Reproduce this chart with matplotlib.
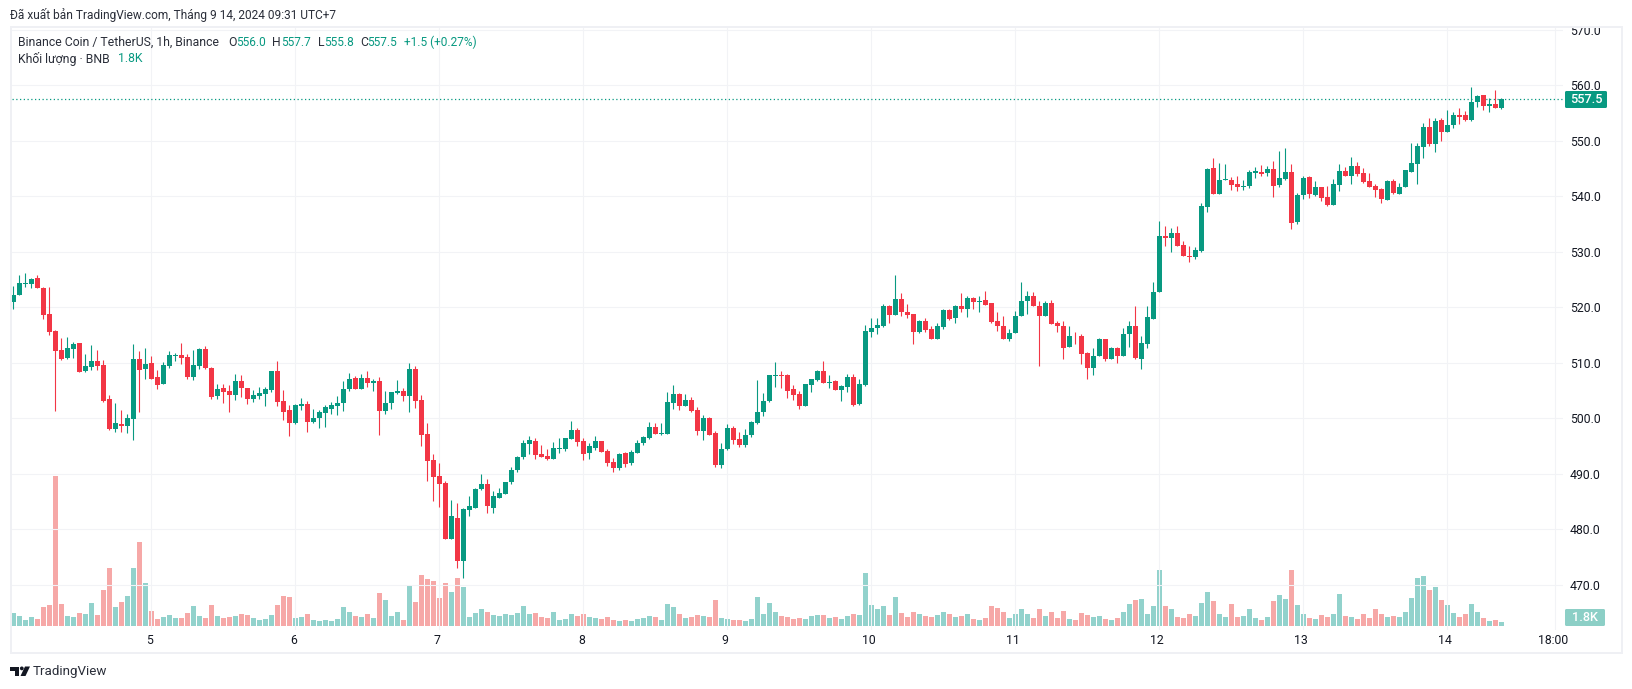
# -*- coding: utf-8 -*-
import matplotlib as mpl
mpl.use('Agg')
import matplotlib.pyplot as plt
from matplotlib.patches import Rectangle, Circle, Polygon, FancyBboxPatch
from matplotlib.transforms import ScaledTranslation

plt.rcParams['font.family'] = ['Roboto', 'DejaVu Sans']

# hourly candles, first one is Sep 4 01:00
opens = [520.9,522.2,524.2,524.2,525.3,523.5,518.8,515.7,512.3,510.9,
         512.5,513.6,508.5,509.2,510.3,509.6,503.5,498.1,499.0,498.6,
         499.9,510.7,508.9,510.0,507.4,506.2,509.4,511.2,511.4,511.0,
         507.4,509.4,512.5,509.1,504.0,505.5,504.9,504.2,506.7,505.4,
         503.5,504.0,504.4,505.1,508.5,503.1,501.5,499.1,502.2,502.6,
         499.3,500.0,500.9,501.7,502.2,502.7,505.3,507.2,505.3,507.2,
         506.3,506.7,501.3,502.7,504.5,504.9,504.0,508.9,503.3,497.2,
         492.5,489.6,488.3,478.3,482.1,474.2,483.4,483.9,487.2,488.1,
         483.9,485.7,486.3,488.5,490.7,493.0,495.4,495.9,493.6,493.2,
         492.7,494.4,494.5,496.3,497.9,495.9,493.7,494.6,495.9,494.1,
         492.2,491.0,493.7,491.9,493.7,495.5,496.4,498.4,497.2,497.2,
         502.7,504.4,502.2,503.3,501.5,497.7,500.0,497.3,491.6,494.5,
         498.3,496.2,495.2,497.0,499.2,501.1,503.1,507.6,507.8,507.8,
         505.3,504.4,502.2,506.0,506.9,508.5,506.4,506.7,505.1,505.6,
         507.4,502.6,506.0,515.5,516.3,516.6,520.2,518.6,521.5,519.1,
         518.8,515.5,517.5,516.1,514.3,516.4,519.5,518.0,520.3,519.6,
         521.6,520.9,521.4,520.7,517.6,516.6,514.2,515.3,518.5,521.1,
         522.0,520.3,518.5,520.7,517.1,516.7,512.8,514.9,514.9,511.7,
         509.0,511.3,514.2,510.6,512.6,511.2,515.1,516.6,510.6,513.3,
         517.8,522.7,532.9,532.4,533.3,531.3,529.3,529.1,530.2,538.0,
         545.1,540.4,542.9,542.9,542.2,541.6,541.8,544.2,544.3,544.2,
         544.9,542.0,543.1,544.3,535.3,540.2,543.4,540.2,541.6,539.8,
         538.4,542.0,544.5,543.6,545.4,544.2,542.7,541.8,541.3,539.3,
         542.7,540.4,541.6,544.3,545.8,548.8,552.4,549.4,553.7,551.5,
         552.8,554.7,554.7,553.8,557.0,558.3,556.3,556.6,556.0]
highs = [523.8,525.8,526.2,525.3,525.8,523.6,523.6,515.9,514.5,514.6,
         513.7,513.6,511.6,513.2,512.3,510.5,504.2,502.8,501.5,500.8,
         513.4,512.1,512.7,511.2,508.7,510.1,512.1,511.8,513.6,511.6,
         512.3,512.7,513.0,509.2,506.2,506.2,506.0,508.0,507.8,505.5,
         505.1,505.6,505.6,508.5,510.3,505.1,502.4,502.6,503.6,503.1,
         501.7,501.5,502.4,502.9,504.0,506.7,508.1,507.6,508.0,508.5,
         507.1,507.4,504.9,504.7,506.9,505.4,510.0,509.4,504.2,499.1,
         493.6,492.0,488.7,485.3,484.7,483.8,485.9,487.5,489.9,489.0,
         486.8,487.5,488.6,491.2,493.2,496.1,496.8,496.4,495.2,494.5,
         495.7,496.4,496.4,499.5,498.2,496.4,495.5,496.8,495.9,494.5,
         492.8,493.7,493.9,494.3,496.1,496.8,499.3,499.1,499.1,504.7,
         506.0,504.5,504.4,503.8,502.0,500.6,500.2,497.7,495.6,499.0,
         498.6,497.6,498.0,499.5,506.9,504.6,507.8,510.1,508.5,508.0,
         506.0,504.9,506.2,507.1,508.7,510.3,507.8,506.9,506.0,508.0,
         508.0,507.1,516.8,518.1,518.1,520.6,520.4,525.8,522.6,520.6,
         518.8,517.7,518.1,516.6,517.2,519.7,519.7,520.5,522.5,522.0,
         521.8,522.1,522.9,520.7,519.1,518.5,516.0,519.4,524.5,522.9,
         522.7,521.2,521.2,521.4,517.5,517.5,516.7,515.5,515.1,511.9,
         512.6,514.4,514.2,512.8,512.8,516.2,517.6,520.2,514.9,520.2,
         524.5,535.5,534.6,534.2,534.7,532.0,531.0,530.9,538.8,545.1,
         546.9,546.0,545.8,543.4,543.6,542.9,544.7,545.2,545.6,545.4,
         546.3,548.1,548.7,545.8,540.6,543.6,543.6,542.7,541.6,541.8,
         543.1,545.8,545.2,547.0,546.1,545.1,544.2,542.2,541.5,542.9,
         543.1,542.4,544.7,549.6,549.6,553.2,554.2,554.2,554.2,555.5,
         555.2,555.9,555.4,559.7,558.3,558.3,557.7,559.2,557.7]
lows = [519.7,522.2,523.6,523.5,523.5,517.9,515.0,501.3,510.5,510.7,
        510.9,508.3,508.3,508.7,508.7,502.9,497.9,497.5,497.5,497.3,
        496.0,501.1,507.1,507.1,505.3,506.2,509.1,510.3,509.8,507.1,
        506.9,508.9,508.9,503.5,503.5,502.8,501.1,503.3,503.8,502.6,
        502.9,503.5,502.2,504.7,502.2,499.7,496.8,499.0,501.5,497.5,
        499.1,498.2,498.4,500.8,500.6,501.3,504.9,505.3,505.3,505.6,
        504.9,497.0,500.8,501.7,504.4,503.1,501.1,501.8,495.0,488.7,
        485.1,484.0,478.3,478.3,473.0,471.3,482.3,483.9,487.0,482.9,
        483.0,485.6,486.3,488.2,490.4,492.7,493.6,492.7,493.0,492.4,
        492.7,493.7,494.1,496.3,495.0,492.5,492.7,494.3,493.9,491.4,
        490.4,490.6,491.2,491.5,493.7,495.2,496.3,497.2,497.0,497.2,
        501.7,501.5,502.2,501.1,497.0,496.1,497.0,491.2,491.0,494.2,
        495.4,494.8,494.9,496.7,499.0,500.4,502.9,505.6,505.5,503.7,
        503.3,501.7,502.2,504.7,506.7,506.4,505.5,505.1,503.1,504.7,
        502.2,502.4,505.8,514.6,515.2,516.4,517.2,518.6,518.4,518.1,
        513.4,515.4,515.5,514.3,514.3,516.1,517.7,517.1,519.1,518.2,
        519.6,519.1,520.5,517.1,515.7,514.2,514.0,515.3,518.5,518.7,
        520.2,509.4,518.5,516.9,515.5,510.6,512.8,513.3,509.7,507.0,
        507.8,511.3,510.4,510.6,509.9,511.2,512.9,510.6,508.8,512.6,
        517.8,522.7,531.0,529.9,531.1,529.2,528.2,528.7,530.0,537.1,
        540.4,540.4,542.9,541.1,540.9,541.1,541.5,543.3,543.6,543.6,
        539.8,541.6,542.9,534.1,535.0,539.5,539.7,540.0,539.1,538.2,
        538.4,540.9,543.6,542.2,543.6,542.4,541.6,539.8,538.8,539.3,
        540.4,540.4,541.6,544.3,542.2,546.9,549.0,547.9,549.9,551.5,
        552.3,553.0,553.6,553.6,556.1,555.6,555.2,555.9,555.8]
closes = [522.2,524.4,524.4,525.1,523.5,518.6,515.5,512.1,510.7,512.7,
          513.4,508.3,509.4,510.3,509.4,503.1,498.1,499.2,498.6,500.1,
          510.7,508.7,509.8,507.1,506.0,509.6,511.4,511.4,510.9,507.4,
          509.6,512.5,509.1,503.8,505.3,504.7,504.2,506.7,505.5,503.5,
          504.2,504.5,505.3,508.5,502.9,501.1,499.1,502.4,502.6,499.3,
          500.0,501.1,502.0,502.4,502.7,505.3,507.1,505.3,507.2,506.3,
          506.7,501.3,502.7,504.7,504.9,504.0,508.9,503.1,497.0,492.3,
          489.4,488.2,478.3,482.4,474.2,483.6,484.1,487.2,488.1,484.1,
          485.9,486.5,488.6,490.7,493.0,495.5,496.1,493.4,493.0,492.7,
          494.6,494.6,496.4,497.9,495.7,493.6,495.0,495.9,493.9,491.9,
          491.0,493.5,491.7,493.9,495.5,496.6,498.4,497.2,497.3,502.9,
          504.4,502.2,503.3,501.3,497.7,500.0,497.0,491.6,494.5,498.3,
          496.0,495.2,497.0,499.3,501.1,503.1,507.8,507.8,507.6,504.9,
          504.2,502.2,506.2,507.1,508.5,506.4,506.5,505.1,505.8,507.4,
          502.4,506.2,515.7,516.3,516.8,520.2,518.6,521.5,519.1,518.6,
          515.5,517.5,515.9,514.3,516.6,519.5,517.8,520.3,519.6,521.6,
          520.9,521.2,520.5,517.3,516.6,514.2,515.3,518.5,521.1,522.0,
          520.2,518.5,520.7,516.9,516.7,512.6,514.9,514.8,511.5,509.0,
          511.3,514.2,510.6,512.6,511.2,515.1,516.6,510.8,513.5,518.2,
          522.7,532.9,532.4,533.3,531.1,529.3,529.0,530.3,538.2,544.9,
          540.4,542.9,543.1,542.0,541.6,541.8,544.3,544.5,544.0,544.9,
          541.8,543.3,544.3,535.2,540.2,543.3,540.4,541.6,539.7,538.4,
          542.2,544.5,543.6,545.4,544.0,542.5,541.6,541.1,539.5,542.7,
          540.6,541.6,544.7,546.0,549.0,552.4,549.4,553.5,551.5,552.8,
          554.7,554.3,553.8,557.0,558.1,556.3,556.6,555.9,557.5]
# volume in thousands of BNB
volumes = [6.5,5,3,4.5,3.5,9.5,10.5,75,11,5,
           4.5,6.5,6,11.5,5.5,18,29,9.5,12,15,
           29,42,21.5,7.5,3.5,4.5,5.5,4,4,6.5,
           10,5,4,10.5,5,4,4.5,5,6,5.5,
           4,3,3.5,5.5,10.5,15,14.5,4,4.5,6,
           3,2.5,3,2.5,3.5,9.5,7,5,4.5,6,
           4,16.5,13,5,7,3,20.5,12,25.5,23.5,
           22.5,14,21.5,17,24,19.5,4.5,6.5,8.5,7,
           5.5,5,6,5.5,6.5,10,6,6.5,4.5,4,
           7,3,3.5,6,5,6,4.5,4,3.5,4.5,
           3,2.5,3,2.5,3.5,4,5,4.5,3,11,
           9.5,6,4,4.5,5.5,5,4.5,13,4,3.5,
           3,3,2.5,3.5,14.5,6,11.5,7,5,4.5,
           3.5,4,3.5,5,5.5,5.5,4,4.5,3.5,5,
           6,5.5,26.5,10.5,8.5,10,5.5,14.5,6.5,4.5,
           7,6,5,4.5,5.5,7,6,4.5,5,6,
           3.5,3,4,10,9,7,4,6,8.5,6,
           4,8.5,5,7,4,7.5,3.5,3,6.5,5.5,
           4.5,5,3.5,3,4,7,11,13,13.5,6,
           10,28,10,8.5,4.5,4,6,5,11.5,17,
           12.5,6,4.5,11,4.5,5,8.5,4,3,4.5,
           12.5,15.5,13.5,28,10.5,6,4,3.5,5.5,4.5,
           6,16,5,4.5,3.5,6,4,8.5,6,4.5,
           5,4.5,7,14,24,25,18,19.5,13,10.5,
           6.5,4.5,6,11,7,4,2.5,3,1.8]

price_ticks = [470, 480, 490, 500, 510, 520, 530, 540, 550, 560, 570]
time_ticks = [23, 47, 71, 95, 119, 143, 167, 191, 215, 239, 257]
time_labels = ['5', '6', '7', '8', '9', '10', '11', '12', '13', '14', '18:00']
last_price = 557.5

green = '#089981'
red = '#f23645'
grid = '#f2f3f6'
txt = '#131722'
px = 0.72  # one pixel in points at dpi 100
W, H = 1632, 689


def pane(l, t, r, b):
    return [l / W, 1 - b / H, (r - l) / W, (b - t) / H]


fig = plt.figure(figsize=(W / 100, H / 100), dpi=100, facecolor='white')

# volume goes under the candles
vol = fig.add_axes(pane(12, 27, 1563, 630), zorder=1)
xs = list(range(len(opens)))
up = [c >= o for o, c in zip(opens, closes)]
vol.bar(xs, volumes, width=0.83, linewidth=0,
        color=['#26a69a' if u else '#ef5350' for u in up], alpha=0.5)
vol.set_xlim(-0.217, 258.28)
vol.set_ylim(-2, 299.5)
vol.axis('off')

ax = fig.add_axes(pane(12, 27, 1563, 630), zorder=2)
ax.patch.set_visible(False)
ax.set_xlim(-0.217, 258.28)
ax.set_ylim(461.84, 570.51)
for s in ax.spines.values():
    s.set_visible(False)
ax.set_axisbelow(True)
ax.grid(True, color=grid, lw=1.1 * px)

colors = [green if u else red for u in up]
ax.vlines(xs, lows, highs, colors=colors, lw=1.1 * px, zorder=3)
ax.bar(xs, [abs(c - o) for o, c in zip(opens, closes)],
       bottom=[min(o, c) for o, c in zip(opens, closes)],
       width=0.83, color=colors, linewidth=0, zorder=4)
ax.axhline(last_price, color=green, lw=1.25 * px, ls=(0, (1, 2)), zorder=2)

ax.yaxis.tick_right()
ax.set_yticks(price_ticks)
ax.set_yticklabels(['%.1f' % p for p in price_ticks])
ax.set_xticks(time_ticks)
ax.set_xticklabels(time_labels)
ax.tick_params(axis='both', length=0, labelsize=8.8, colors=txt)
ax.tick_params(axis='y', pad=4.8)
ax.tick_params(axis='x', pad=2.8)
shift = ScaledTranslation(-2 / 100, 0, fig.dpi_scale_trans)
for lab in ax.get_xticklabels():
    lab.set_transform(lab.get_transform() + shift)

# overlay in pixel coordinates for frame, tags and header
ov = fig.add_axes([0, 0, 1, 1], zorder=3)
ov.set_xlim(0, W)
ov.set_ylim(H, 0)
ov.axis('off')
ov.add_patch(Rectangle((10.5, 26.5), 1611, 626.5, fill=False, ec='#eff0f4', lw=2 * px))

# 570.0 is cut by the frame in the original
clip = Rectangle((0, 27), W, H, transform=ov.transData)
for lab in ax.get_yticklabels():
    lab.set_clip_path(clip)

ov.add_patch(FancyBboxPatch((1566, 92), 40, 15, boxstyle='round,pad=1,rounding_size=1.5',
                            fc=green, ec='none'))
ov.text(1586, 99.5, '557.5', color='white', fontsize=9.2, fontweight='medium', ha='center', va='center')
ov.add_patch(FancyBboxPatch((1566, 610), 38, 15, boxstyle='round,pad=1,rounding_size=1.5',
                            fc='#8ccfc6', ec='none'))
ov.text(1585, 617.5, '1.8K', color='white', fontsize=9.2, fontweight='medium', ha='center', va='center')

ov.text(10, 15, 'Đã xuất bản TradingView.com, Tháng 9 14, 2024 09:31 UTC+7',
        color='#2a2e39', fontsize=8.6, va='center')
ov.text(18, 42, 'Binance Coin / TetherUS, 1h, Binance', color='#2a2e39', fontsize=8.8, va='center')
ov.text(18, 59, 'Khối lượng · BNB', color='#2a2e39', fontsize=8.8, va='center')
ov.text(118, 59, '1.8K', color=green, fontsize=8.8, va='center')
for x, s in [(228, 'O'), (272, 'H'), (318, 'L'), (360, 'C')]:
    ov.text(x, 42, s, color='#2a2e39', fontsize=8.8, va='center')
for x, s in [(236, '556.0'), (281, '557.7'), (324, '555.8'), (367, '557.5'), (404, '+1.5 (+0.27%)')]:
    ov.text(x, 42, s, color=green, fontsize=8.6, va='center')

# logo
logo = '#131722'
ov.add_patch(Rectangle((10, 666.5), 9, 4, fc=logo, ec='none'))
ov.add_patch(Rectangle((14.5, 666.5), 4.5, 9.5, fc=logo, ec='none'))
ov.add_patch(Circle((21.8, 668.4), 1.9, fc=logo, ec='none'))
ov.add_patch(Polygon([(25, 666.5), (30, 666.5), (25.5, 676), (20.5, 676)], fc=logo, ec='none'))
ov.text(33, 671, 'TradingView', color='#2a2e39', fontsize=9.6, va='center')

fig.savefig('out.png', dpi=100, facecolor='white')
